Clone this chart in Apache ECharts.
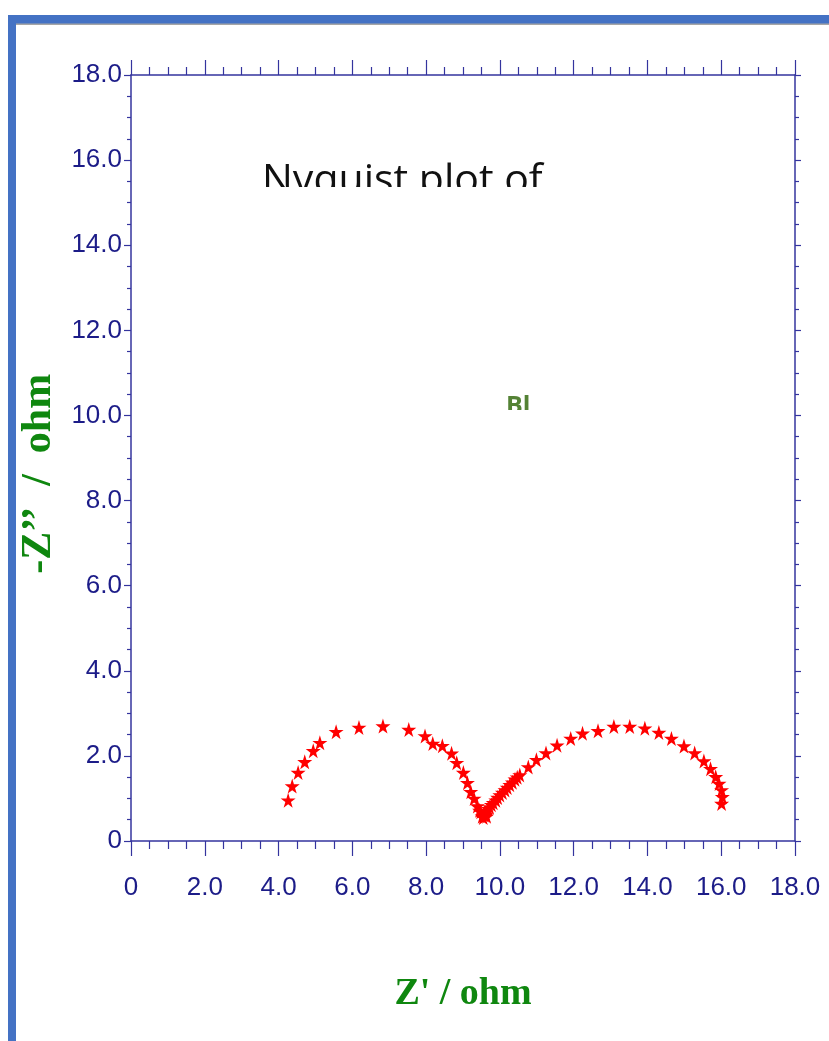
<!DOCTYPE html>
<html>
<head>
<meta charset="utf-8">
<script src="https://cdn.jsdelivr.net/npm/echarts@6/dist/echarts.min.js"></script>
<style>html,body{margin:0;padding:0;background:#fff;}#c{width:829px;height:1041px;}</style>
</head>
<body>
<div id="c"></div>
<script>
// Z' (ohm) values
const zReal = [4.26,4.37,4.53,4.71,4.94,5.12,5.56,6.18,6.83,7.53,7.97,8.18,8.44,8.69,8.83,9.01,9.12,9.21,9.30,9.39,9.45,9.48,9.52,9.55,9.57,
  9.59,9.62,9.64,9.68,9.72,9.77,9.82,9.89,9.94,10.00,10.07,10.14,10.20,10.27,10.34,10.41,10.47,10.54,10.77,10.99,11.25,11.55,11.92,12.24,12.66,13.09,13.52,13.93,14.31,14.65,14.99,15.28,15.53,15.71,15.85,15.94,16.01,16.03,16.01];
// -Z'' (ohm) values
const zImag = [0.96,1.29,1.61,1.86,2.12,2.31,2.57,2.67,2.70,2.62,2.47,2.29,2.24,2.06,1.84,1.61,1.37,1.16,1.00,0.82,0.72,0.69,0.58,0.55,0.61,
  0.65,0.62,0.58,0.76,0.80,0.85,0.90,0.96,1.02,1.08,1.14,1.20,1.26,1.32,1.38,1.45,1.50,1.55,1.74,1.91,2.07,2.25,2.41,2.53,2.59,2.69,2.69,2.65,2.55,2.41,2.23,2.07,1.88,1.70,1.51,1.35,1.20,1.04,0.88];
const titleText = 'Nyquist plot of';
const subText = 'Bl';
const xName = "Z' / ohm";
const yName = "-Z\u2019\u2019  /  ohm   ";

const pts = zReal.map((x, i) => [x, zImag[i]]);
const navy = '#34349e';
const labelColor = '#1c1c88';
const green = '#0f870f';
const fmt = v => (v === 0 ? '0' : v.toFixed(1));
const labelFont = '"Liberation Sans", Arial, sans-serif';
const star = 'path://M50,0 L61,35 L98,35 L68,57 L79,91 L50,70 L21,91 L32,57 L2,35 L39,35 Z';

function axis(pos, showLabel, tickLen, minorLen, extra) {
  return Object.assign({
    type: 'value', position: pos, min: 0, max: 18, interval: 2,
    axisLine: { show: true, onZero: false, lineStyle: { color: navy, width: 1.5 } },
    axisTick: { show: true, inside: false, length: tickLen, lineStyle: { color: navy, width: 1.2 } },
    minorTick: { show: true, splitNumber: 4, length: minorLen, lineStyle: { color: navy, width: 1.2 } },
    splitLine: { show: false },
    minorSplitLine: { show: false },
    axisLabel: { show: showLabel, formatter: fmt, color: labelColor, fontSize: 25, fontFamily: labelFont },
  }, extra || {});
}

const chart = echarts.init(document.getElementById('c'), null, { renderer: 'canvas' });
chart.setOption({
  backgroundColor: '#fff',
  animation: false,
  grid: { left: 131, right: 34, top: 75, bottom: 200, containLabel: false, outerBoundsMode: 'none' },
  title: [
    { text: titleText, left: 257, top: 156, textStyle: { fontFamily: '"Open Sans", "Noto Sans", sans-serif', fontWeight: 'normal', fontSize: 41, color: '#111' } },
    { text: subText, left: 501, top: 389, textStyle: { fontFamily: '"Open Sans", "Noto Sans", sans-serif', fontWeight: 'bold', fontSize: 25, color: '#548235' } }
  ],
  xAxis: [
    axis('bottom', true, 15, 8, {
      axisLabel: { show: true, formatter: fmt, color: labelColor, fontSize: 26, fontFamily: labelFont, margin: 34 },
      name: xName, nameLocation: 'middle', nameGap: 134,
      nameTextStyle: { fontFamily: '"Liberation Serif", "Times New Roman", serif', fontWeight: 'bold', fontSize: 38, color: green }
    }),
    axis('top', false, 15, 8)
  ],
  yAxis: [
    axis('left', true, 7, 4, {
      axisLabel: { show: true, formatter: fmt, color: labelColor, fontSize: 26, fontFamily: labelFont, margin: 9 },
      name: yName, nameLocation: 'middle', nameGap: 80, nameRotate: 90,
      nameTextStyle: { fontFamily: '"Liberation Serif", "Times New Roman", serif', fontWeight: 'bold', fontSize: 42, color: green, verticalAlign: 'middle' }
    }),
    axis('right', false, 6, 4)
  ],
  series: [{
    type: 'scatter', xAxisIndex: 0, yAxisIndex: 0, data: pts,
    symbol: star, symbolSize: 15,
    itemStyle: { color: '#ff0000', opacity: 1 }
  }],
  graphic: [
    { type: 'rect', z: 100, shape: { x: 220, y: 187, width: 380, height: 35 }, style: { fill: '#fff' } },
    { type: 'rect', z: 100, shape: { x: 480, y: 410, width: 80, height: 20 }, style: { fill: '#fff' } },
    { type: 'rect', z: 101, shape: { x: 16, y: 23, width: 820, height: 2 }, style: { fill: '#a6a6a6' } },
    { type: 'rect', z: 102, shape: { x: 8, y: 15, width: 830, height: 8.5 }, style: { fill: '#4472c4' } },
    { type: 'rect', z: 102, shape: { x: 8, y: 15, width: 8, height: 1040 }, style: { fill: '#4472c4' } }
  ]
});
</script>
</body>
</html>
